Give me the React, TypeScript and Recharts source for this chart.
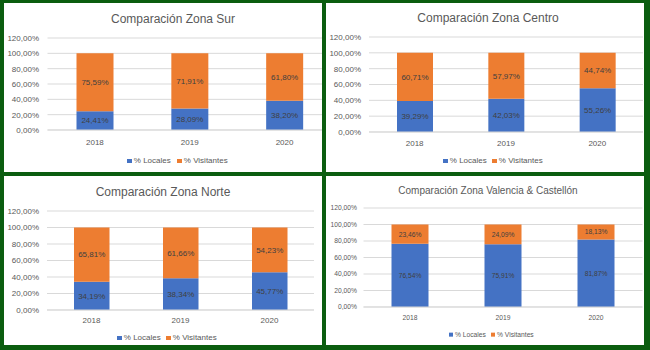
import React from 'react';
import { BarChart, Bar, XAxis, YAxis, CartesianGrid, LabelList } from 'recharts';

const years = ['2018', '2019', '2020'];
const yTicks = [0, 20, 40, 60, 80, 100, 120];

const surLocales = [24.41, 28.09, 38.2];
const surVisitantes = [75.59, 71.91, 61.8];
const centroLocales = [39.29, 42.03, 55.26];
const centroVisitantes = [60.71, 57.97, 44.74];
const norteLocales = [34.19, 38.34, 45.77];
const norteVisitantes = [65.81, 61.66, 54.23];
const valenciaLocales = [76.54, 75.91, 81.87];
const valenciaVisitantes = [23.46, 24.09, 18.13];

const titles = [
  'Comparación Zona Sur',
  'Comparación Zona Centro',
  'Comparación Zona Norte',
  'Comparación Zona Valencia & Castellón',
];
const seriesNames = ['% Locales', '% Visitantes'];

const build = (loc: number[], vis: number[]) =>
  years.map((y, i) => ({ year: y, locales: loc[i], visitantes: vis[i] }));

const datasets = [
  build(surLocales, surVisitantes),
  build(centroLocales, centroVisitantes),
  build(norteLocales, norteVisitantes),
  build(valenciaLocales, valenciaVisitantes),
];

const fmt = (v: any) => `${Number(v).toFixed(2).replace('.', ',')}%`;

const FONT = '"Liberation Sans", Arial, sans-serif';
const BLUE = '#4472C4';
const ORANGE = '#ED7D31';
const GREEN = '#0b5d0f';
const PANEL_H = 169;

type Layout = {
  left: number; top: number;
  chartW: number; plotLeft: number; plotRight: number; plotTop: number; plotBottom: number;
  barSize: number; fs: number; titleFs: number; titleX: number; titleY: number;
  yTickMargin: number; xTickMargin: number;
  legendY: number; legend1X: number; legend2X: number;
};

const layouts: Layout[] = [
  { left: 4, top: 3, chartW: 340, plotLeft: 43.5, plotRight: 328, plotTop: 35, plotBottom: 127, barSize: 37, fs: 8, titleFs: 12, titleX: 169, titleY: 16, yTickMargin: 2.5, xTickMargin: 3.2, legendY: 158, legend1X: 123, legend2X: 173 },
  { left: 326, top: 3, chartW: 318, plotLeft: 43, plotRight: 317, plotTop: 34, plotBottom: 129, barSize: 36, fs: 8, titleFs: 12, titleX: 162, titleY: 15, yTickMargin: 2, xTickMargin: 2.2, legendY: 158, legend1X: 117, legend2X: 166 },
  { left: 4, top: 176, chartW: 318, plotLeft: 43, plotRight: 310, plotTop: 35, plotBottom: 134, barSize: 35.5, fs: 8, titleFs: 12, titleX: 159, titleY: 16, yTickMargin: 2, xTickMargin: 1.2, legendY: 162, legend1X: 113, legend2X: 162 },
  { left: 326, top: 176, chartW: 318, plotLeft: 37.5, plotRight: 316.5, plotTop: 32, plotBottom: 131, barSize: 37, fs: 6.7, titleFs: 10, titleX: 162, titleY: 15, yTickMargin: 0.5, xTickMargin: 2.6, legendY: 159, legend1X: 123, legend2X: 165 },
];

function Panel({ idx }: { idx: number }) {
  const L = layouts[idx];
  const data = datasets[idx];
  const xAxisH = 20;
  const labelStyle = { fill: '#404040', fontSize: L.fs, fontFamily: FONT };
  return (
    <div style={{ position: 'absolute', left: L.left, top: L.top, width: 318, height: PANEL_H, background: '#fff', overflow: 'hidden' }}>
      <div style={{ position: 'absolute', left: L.titleX, top: L.titleY, transform: 'translate(-50%, -50%)', whiteSpace: 'nowrap', fontFamily: FONT, fontSize: L.titleFs, color: '#595959', lineHeight: 1 }}>
        {titles[idx]}
      </div>
      <BarChart
        width={L.chartW}
        height={PANEL_H}
        data={data}
        margin={{ top: L.plotTop, right: L.chartW - L.plotRight, left: 0, bottom: PANEL_H - L.plotBottom - xAxisH }}
        style={{ position: 'absolute', left: 0, top: 0 }}
      >
        <CartesianGrid vertical={false} stroke="#d9d9d9" />
        <XAxis dataKey="year" height={xAxisH} tickLine={false} axisLine={{ stroke: '#d9d9d9' }} tickMargin={L.xTickMargin}
          tick={{ fill: '#595959', fontSize: L.fs, fontFamily: FONT }} />
        <YAxis width={L.plotLeft} domain={[0, 120]} ticks={yTicks} interval={0} tickFormatter={fmt} axisLine={false} tickLine={false}
          tickMargin={L.yTickMargin} tick={{ fill: '#595959', fontSize: L.fs, fontFamily: FONT }} />
        <Bar dataKey="locales" stackId="a" fill={BLUE} barSize={L.barSize} isAnimationActive={false}>
          <LabelList dataKey="locales" position="center" formatter={fmt} style={labelStyle} />
        </Bar>
        <Bar dataKey="visitantes" stackId="a" fill={ORANGE} barSize={L.barSize} isAnimationActive={false}>
          <LabelList dataKey="visitantes" position="center" formatter={fmt} style={labelStyle} />
        </Bar>
      </BarChart>
      {[L.legend1X, L.legend2X].map((x, i) => (
        <div key={i} style={{ position: 'absolute', left: x, top: L.legendY, transform: 'translateY(-50%)', display: 'flex', alignItems: 'center', whiteSpace: 'nowrap', fontFamily: FONT, fontSize: L.fs, color: '#595959', lineHeight: 1 }}>
          <span style={{ display: 'inline-block', width: L.fs * 0.6, height: L.fs * 0.6, background: i === 0 ? BLUE : ORANGE, marginRight: 2 }} />
          <span>{seriesNames[i]}</span>
        </div>
      ))}
    </div>
  );
}

export default function App() {
  return (
    <div style={{ position: 'fixed', left: 0, top: 0, width: 650, height: 350, background: GREEN, overflow: 'hidden' }}>
      {[0, 1, 2, 3].map((i) => <Panel key={i} idx={i} />)}
    </div>
  );
}
